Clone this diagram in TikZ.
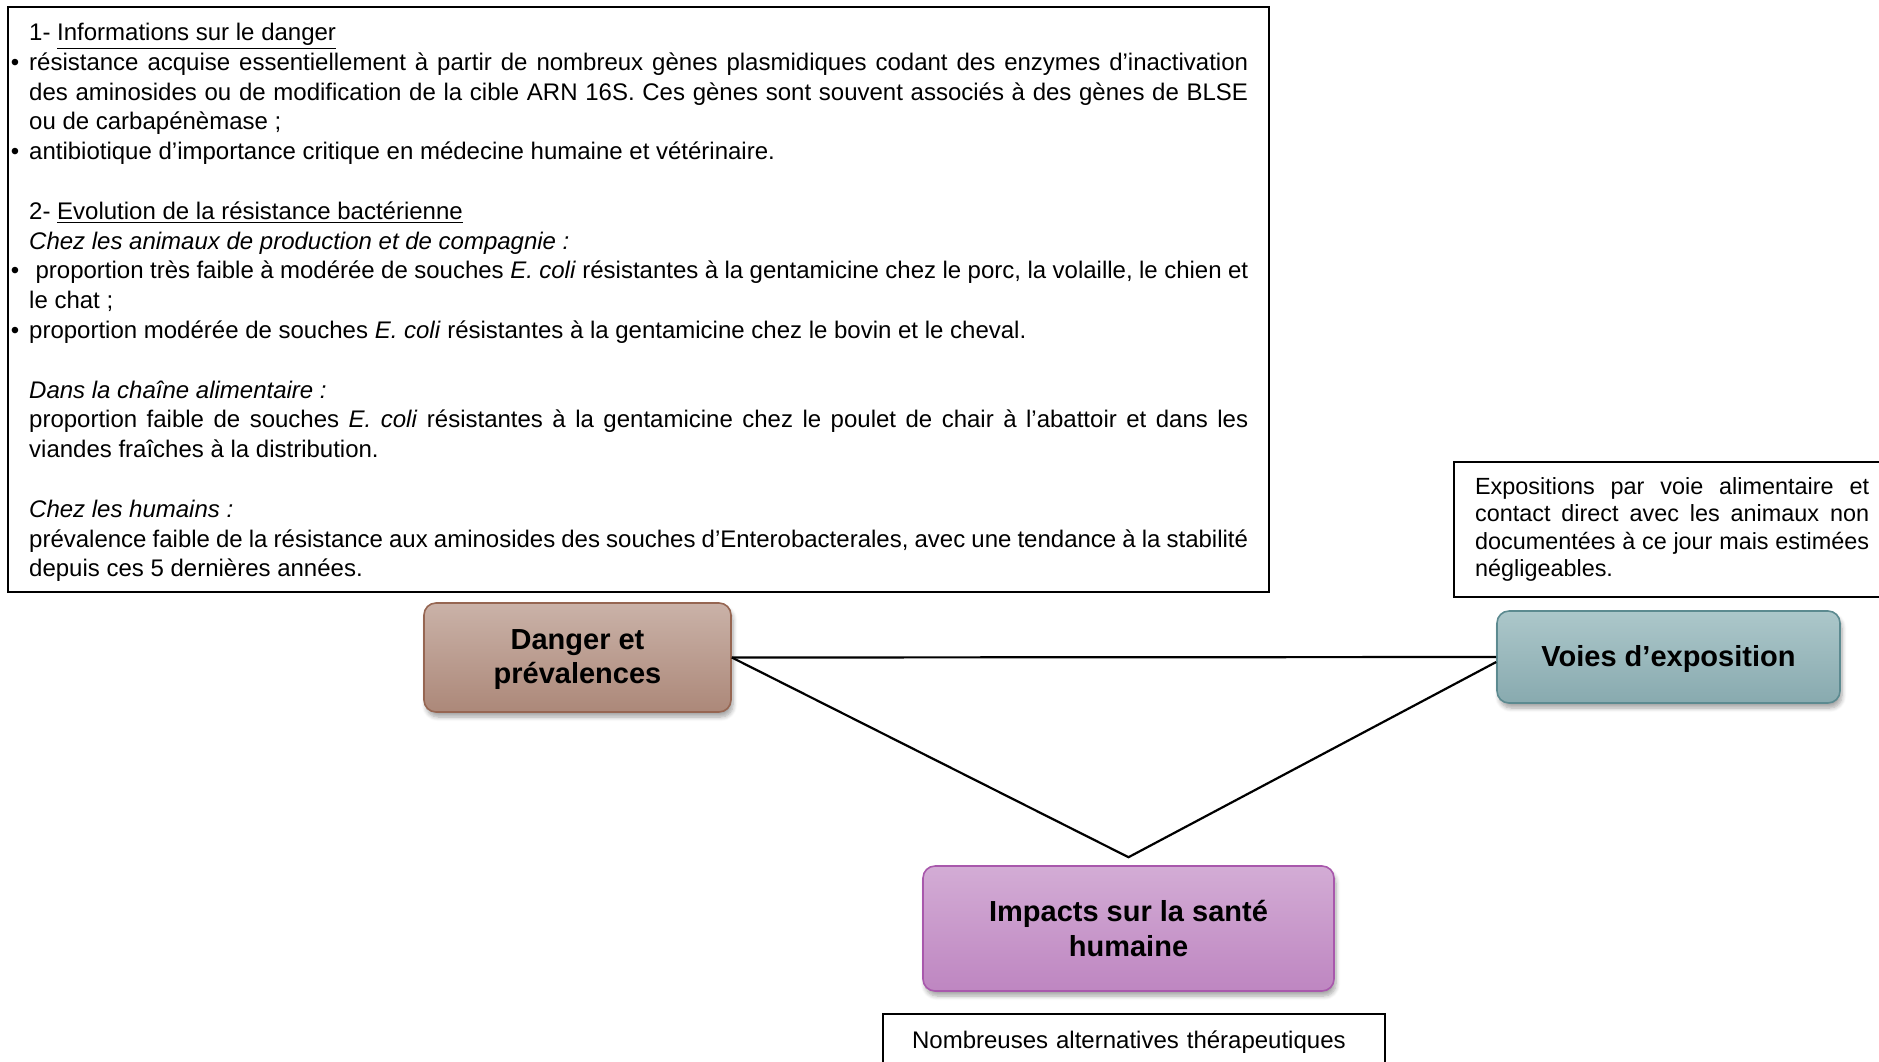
\documentclass[tikz,border=0pt]{standalone}
\usepackage{fontspec}
\setmainfont{Liberation Sans}
\usetikzlibrary{shadows.blur}

\definecolor{dangtop}{RGB}{202,178,168}
\definecolor{dangbot}{RGB}{172,136,121}
\definecolor{dangline}{RGB}{150,102,82}
\definecolor{voietop}{RGB}{172,199,202}
\definecolor{voiebot}{RGB}{136,170,175}
\definecolor{voieline}{RGB}{92,138,144}
\definecolor{imptop}{RGB}{211,172,213}
\definecolor{impbot}{RGB}{190,134,193}
\definecolor{impline}{RGB}{168,88,172}

\tikzset{infobox/.style={draw, line width=1.2pt, align=justify, anchor=north west, font=\fontsize{12}{14.9}\selectfont}}
\tikzset{pole/.style={draw, rounded corners=6pt, line width=.8pt, align=center,
  font=\fontsize{14.5}{17.4}\selectfont\bfseries,
  blur shadow={shadow xshift=1pt, shadow yshift=-2.5pt, shadow blur steps=6, shadow opacity=35}}}
\tikzset{link/.style={line width=1.1pt}}

\newcommand{\blt}{\noindent\llap{\textbullet\hspace{5pt}}}
\newcommand{\skipline}{\par\vspace{14.9pt}}

\begin{document}
\begin{tikzpicture}[x=0.5pt,y=-0.5pt]
\useasboundingbox (0,0) rectangle (1879,1061);

% texts
\node[infobox, text width=609.5pt, inner xsep=10.5pt, inner ysep=8pt] (info) at (7,6) {%
1- \underline{Informations sur le danger}\par
\blt résistance acquise essentiellement à partir de nombreux gènes plasmidiques codant des enzymes d’inactivation\linebreak des aminosides ou de modification de la cible ARN 16S. Ces gènes sont souvent associés à des gènes de BLSE\linebreak ou de carbapénèmase ;\par
\blt antibiotique d’importance critique en médecine humaine et vétérinaire.\skipline
2- \underline{Evolution de la résistance bactérienne}\par
\textit{Chez les animaux de production et de compagnie :}\par
\blt\ proportion très faible à modérée de souches \textit{E. coli} résistantes à la gentamicine chez le porc, la volaille, le chien et\linebreak le chat ;\par
\blt proportion modérée de souches \textit{E. coli} résistantes à la gentamicine chez le bovin et le cheval.\skipline
\textit{Dans la chaîne alimentaire :}\par
proportion faible de souches \textit{E. coli} résistantes à la gentamicine chez le poulet de chair à l’abattoir et dans les\linebreak viandes fraîches à la distribution.\skipline
\textit{Chez les humains :}\par
prévalence faible de la résistance aux aminosides des souches d’Enterobacterales, avec une tendance à la stabilité\linebreak depuis ces 5 dernières années.\par\kern-3pt};

\node[infobox, text width=197pt, line width=1.1pt, inner xsep=10.5pt, inner ysep=7.5pt,
  font=\fontsize{11.7}{13.8}\selectfont] (expo) at (1453,461)
  {Expositions par voie alimentaire et\linebreak contact direct avec les animaux non\linebreak documentées à ce jour mais estimées\linebreak négligeables.};

\node[infobox, align=left, text width=222pt, line width=1.1pt, inner xsep=14.5pt, inner ysep=8.2pt] (alt) at (882,1013)
  {Nombreuses alternatives thérapeutiques};

% the three poles
\node[pole, top color=dangtop, bottom color=dangbot, draw=dangline, minimum width=153.5pt, minimum height=54.5pt, text depth=1pt] (danger) at (577.5,657.5) {Danger et\\prévalences};
\node[pole, top color=voietop, bottom color=voiebot, draw=voieline, minimum width=171.5pt, minimum height=46pt, text depth=1pt] (voies) at (1668.5,657) {Voies d’exposition};
\node[pole, top color=imptop, bottom color=impbot, draw=impline, minimum width=205.5pt, minimum height=62.5pt] (impact) at (1128.5,928.5) {Impacts sur la santé\\humaine};

\coordinate (apex) at ([yshift=4pt]impact.north);
\draw[link] (danger.east) -- (voies.west);
\draw[link] (danger.east) -- (apex) -- ([yshift=-2.5pt]voies.west);

\end{tikzpicture}
\end{document}
